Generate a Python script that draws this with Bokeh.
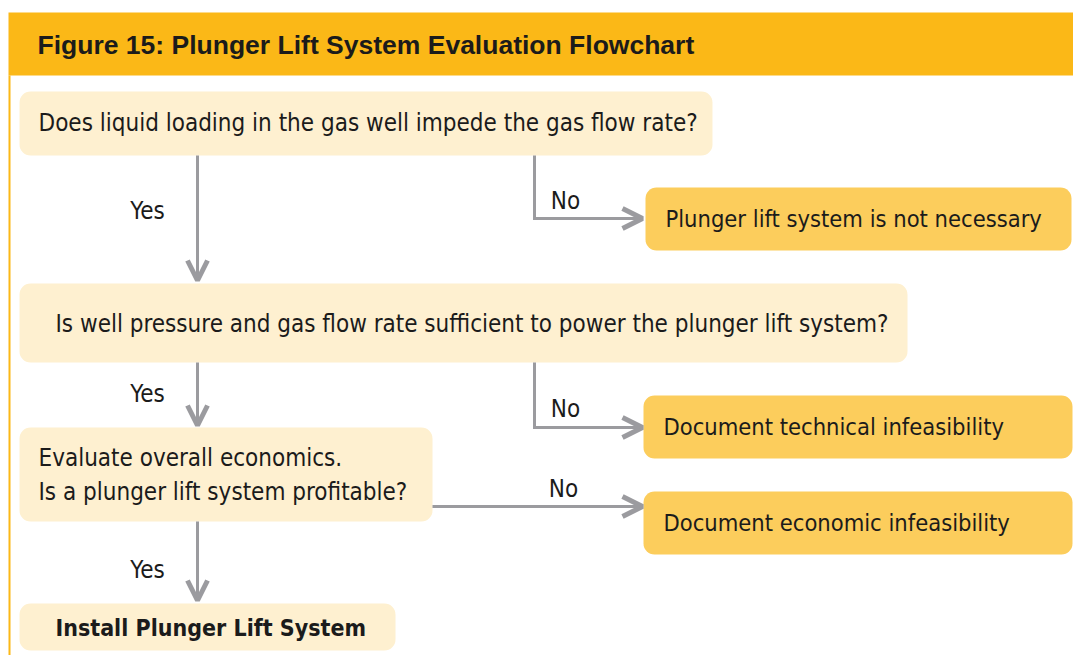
from bokeh.plotting import figure
from bokeh.models import Range1d, Arrow, OpenHead
from bokeh.core.properties import value
from bokeh.embed import file_html
from bokeh.resources import INLINE

# ---- content ----
title = "Figure 15: Plunger Lift System Evaluation Flowchart"
questions = [
    "Does liquid loading in the gas well impede the gas flow rate?",
    "Is well pressure and gas flow rate sufficient to power the plunger lift system?",
    "Evaluate overall economics.",
    "Is a plunger lift system profitable?",
]
outcomes_no = [
    "Plunger lift system is not necessary",
    "Document technical infeasibility",
    "Document economic infeasibility",
]
final_step = "Install Plunger Lift System"
yes_label = "Yes"
no_label = "No"

# ---- layout (pixel space of the figure, y downward) ----
W, H = 1073, 655
HEADER = (8, 1073, 12, 75)
Q_BOXES = [(19, 712, 91, 155), (19, 907, 283, 362), (19, 432, 427, 521)]
Q_TEXT = [(38, 122), (55, 323), (38, 457), (38, 491)]
FINAL_BOX = (19, 395, 603, 650)
FINAL_TEXT = (55, 627)
O_BOXES = [(645, 1071, 187, 250), (643, 1072, 395, 458), (643, 1072, 491, 554)]
O_TEXT = [(665, 218), (663, 426), (663, 522)]

C_HEADER = "#FBB817"
C_CREAM = "#FEF0D0"
C_ORANGE = "#FCCD5C"
C_TEXT = "#1b1b1b"
C_GRAY = "#9B9B9F"
FONT = "DejaVu Sans Condensed"

p = figure(width=W, height=H, x_range=Range1d(0, W), y_range=Range1d(H, 0),
           output_backend="svg", toolbar_location=None, min_border=0,
           background_fill_color="white", border_fill_color="white")
p.axis.visible = False
p.grid.visible = False
p.outline_line_color = None

# header band and left rule
p.quad(left=[HEADER[0]], right=[HEADER[1]], top=[HEADER[2]], bottom=[HEADER[3]],
       fill_color=C_HEADER, line_color=None)
p.quad(left=[8], right=[10], top=[HEADER[3]], bottom=[H], fill_color=C_HEADER, line_color=None)
p.text(x=[37], y=[44], text=[title], text_font=value("Liberation Sans"), text_font_style="bold",
       text_font_size="26.5px", text_color=C_TEXT, text_baseline="middle", text_align="left")

# boxes
for (l, r, t, b) in Q_BOXES + [FINAL_BOX]:
    p.quad(left=[l], right=[r], top=[t], bottom=[b], fill_color=C_CREAM, line_color=None,
           border_radius=11)
for (l, r, t, b) in O_BOXES:
    p.quad(left=[l], right=[r], top=[t], bottom=[b], fill_color=C_ORANGE, line_color=None,
           border_radius=11)

p.text(x=[xy[0] for xy in Q_TEXT], y=[xy[1] for xy in Q_TEXT], text=questions,
       text_font=value(FONT), text_font_size="24px", text_color=C_TEXT,
       text_baseline="middle", text_align="left")
p.text(x=[xy[0] for xy in O_TEXT], y=[xy[1] for xy in O_TEXT], text=outcomes_no,
       text_font=value(FONT), text_font_size="23.5px", text_color=C_TEXT,
       text_baseline="middle", text_align="left")
p.text(x=[FINAL_TEXT[0]], y=[FINAL_TEXT[1]], text=[final_step], text_font=value(FONT),
       text_font_style="bold", text_font_size="23px", text_color=C_TEXT,
       text_baseline="middle", text_align="left")

# connectors
YES_X = 197
NO_X = 534
TIP_X = 642
yes_arrows = [(155, 280), (362, 425), (521, 600)]
yes_text_y = [210, 393, 569]
for (y0, y1) in yes_arrows:
    p.add_layout(Arrow(end=OpenHead(size=20, line_width=5, line_color=C_GRAY),
                       x_start=YES_X, y_start=y0, x_end=YES_X, y_end=y1,
                       line_width=3, line_color=C_GRAY))
p.text(x=[147] * 3, y=yes_text_y, text=[yes_label] * 3, text_font=value(FONT),
       text_font_size="24px", text_color=C_TEXT, text_baseline="middle", text_align="center")

no_elbows = [(155, 218), (362, 427)]
for (y0, y1) in no_elbows:
    p.line(x=[NO_X, NO_X], y=[y0, y1], line_width=3, line_color=C_GRAY)
    p.add_layout(Arrow(end=OpenHead(size=20, line_width=5, line_color=C_GRAY),
                       x_start=NO_X - 1.5, y_start=y1, x_end=TIP_X, y_end=y1,
                       line_width=3, line_color=C_GRAY))
p.add_layout(Arrow(end=OpenHead(size=20, line_width=5, line_color=C_GRAY),
                   x_start=432, y_start=506, x_end=TIP_X, y_end=506,
                   line_width=3, line_color=C_GRAY))
p.text(x=[565, 565, 563], y=[200, 408, 488], text=[no_label] * 3, text_font=value(FONT),
       text_font_size="24px", text_color=C_TEXT, text_baseline="middle", text_align="center")

open("out.html", "w").write(file_html(p, INLINE))
